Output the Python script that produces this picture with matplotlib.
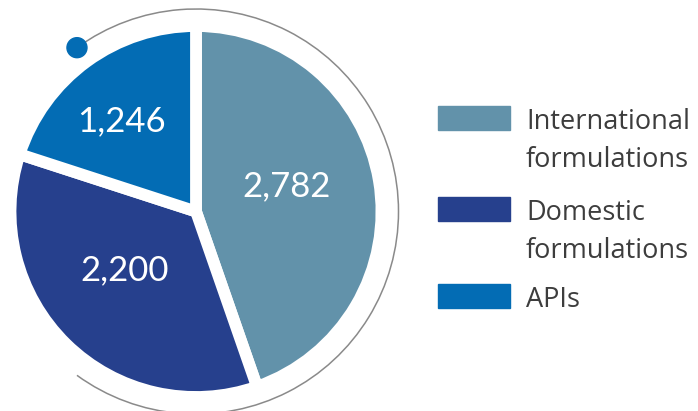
import matplotlib
matplotlib.use("Agg")
import matplotlib.pyplot as plt
from matplotlib.patches import Arc, Circle, Rectangle

# Segment data
categories = ["International\nformulations", "Domestic\nformulations", "APIs"]
values = [2782, 2200, 1246]
colors = ["#6292AA", "#26408D", "#036CB4"]

W, H = 698, 411
fig = plt.figure(figsize=(W / 100, H / 100), dpi=100)
ax = fig.add_axes([0, 0, 1, 1])


def yd(y):
    """Convert a top-down pixel row to the axes' upward y coordinate."""
    return H - y


cx, cy = 196, yd(211.5)

wedges, _ = ax.pie(values, colors=colors, startangle=90, counterclock=False,
                   center=(cx, cy), radius=185.5,
                   wedgeprops=dict(edgecolor="white", linewidth=8.5))

# Thin ring around the pie with a marker dot at its open end
ring_r = 202.5
ax.add_patch(Arc((cx, cy), 2 * ring_r, 2 * ring_r, theta1=-126, theta2=126,
                 color="#8a8a8a", lw=1.1))
import math
ang = math.radians(126)
ax.add_patch(Circle((cx + ring_r * math.cos(ang), cy + ring_r * math.sin(ang)),
                    10, color=colors[2], zorder=5))

# Value labels inside the slices
label_xy = [(287, 186.5), (124.5, 270), (121.5, 121.5)]
for v, (x, y) in zip(values, label_xy):
    ax.text(x, yd(y), f"{v:,}", color="white", fontsize=25, family="Lato",
            ha="center", va="center", zorder=6)

# Legend
swatch_top = [106, 197, 284]
text_base = [129, 220, 307]
for cat, c, st, tb in zip(categories, colors, swatch_top, text_base):
    ax.add_patch(Rectangle((438, yd(st + 24)), 72, 24, color=c))
    for i, line in enumerate(cat.split("\n")):
        ax.text(526, yd(tb + 38 * i), line, color="#3d3d3d", fontsize=19.5,
                family="Open Sans", ha="left", va="baseline")

ax.set_xlim(0, W)
ax.set_ylim(0, H)
ax.set_aspect("equal")
ax.axis("off")
fig.savefig("out.png", dpi=100)
